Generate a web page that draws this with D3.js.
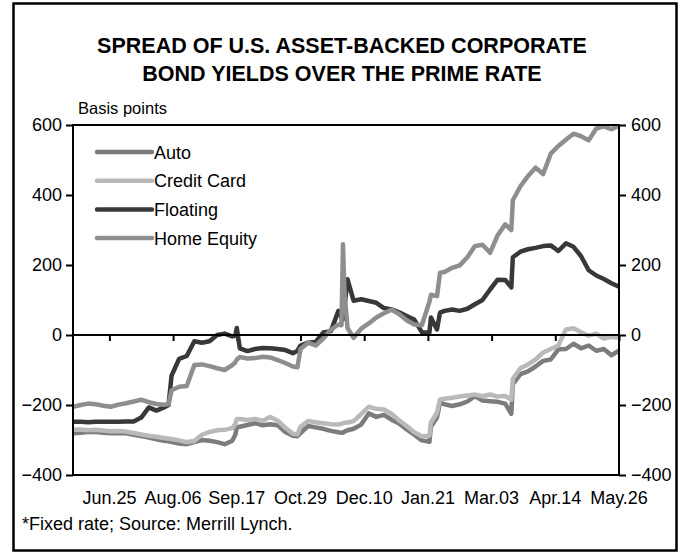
<!DOCTYPE html>
<html><head><meta charset="utf-8">
<script src="https://cdn.jsdelivr.net/npm/d3@7"></script>
<style>
body{margin:0;background:#fff}
svg{display:block}
text{font-family:"Liberation Sans",Arial,Helvetica,sans-serif;fill:#000}
</style>
</head><body>
<svg id="chart" width="683" height="554"></svg>
<script>
// ---------- data ----------
const dates = [
"2007-06-01","2007-06-06","2007-06-11","2007-06-16","2007-06-21","2007-06-26","2007-07-01","2007-07-06",
"2007-07-11","2007-07-16","2007-07-21","2007-07-26","2007-07-31","2007-08-03","2007-08-05","2007-08-10",
"2007-08-15","2007-08-20","2007-08-25","2007-08-30","2007-09-04","2007-09-09","2007-09-14","2007-09-16",
"2007-09-17","2007-09-19","2007-09-24","2007-09-29","2007-10-04","2007-10-09","2007-10-14","2007-10-19",
"2007-10-24","2007-10-27","2007-10-29","2007-11-03","2007-11-08","2007-11-13","2007-11-18","2007-11-23",
"2007-11-25","2007-11-26","2007-11-27","2007-11-29","2007-12-03","2007-12-08","2007-12-13","2007-12-18",
"2007-12-23","2007-12-28","2008-01-02","2008-01-07","2008-01-12","2008-01-17","2008-01-22","2008-01-23",
"2008-01-27","2008-01-29","2008-02-01","2008-02-06","2008-02-11","2008-02-16","2008-02-21","2008-02-26",
"2008-03-02","2008-03-07","2008-03-12","2008-03-16","2008-03-17","2008-03-22","2008-03-27","2008-04-01",
"2008-04-06","2008-04-11","2008-04-16","2008-04-21","2008-04-26","2008-05-01","2008-05-06","2008-05-11",
"2008-05-16","2008-05-21","2008-05-26"];

const homeEquity = [
-205,-200,-196,-198,-202,-205,-199,-195,
-190,-185,-192,-197,-199,-198,-158,-148,
-146,-86,-84,-89,-95,-100,-86,-78,
-70,-63,-67,-66,-62,-64,-72,-80,
-90,-92,-40,-22,-30,-10,15,30,
28,259,120,20,-8,18,33,50,
62,72,60,42,30,28,95,115,
111,178,180,192,199,222,254,258,
235,285,316,300,385,425,454,478,
460,518,540,558,575,568,556,590,
596,588,598];

const floating = [
-248,-248,-249,-248,-248,-248,-248,-247,
-247,-236,-207,-216,-207,-200,-116,-68,
-60,-18,-22,-18,0,4,-4,-2,
20,-38,-46,-40,-37,-38,-40,-43,
-52,-45,-30,-22,-20,7,11,69,
50,45,80,159,98,102,97,92,
77,73,65,54,44,8,7,50,
16,64,69,73,69,75,88,100,
130,158,157,136,222,238,245,249,
254,256,240,262,252,225,185,170,
160,148,138];

const creditCard = [
-271,-270,-272,-271,-273,-275,-274,-276,
-280,-284,-288,-291,-294,-296,-297,-301,
-306,-303,-285,-277,-272,-271,-266,-255,
-240,-240,-243,-240,-245,-234,-245,-265,
-282,-284,-262,-246,-249,-252,-255,-256,
-254,-252,-251,-250,-246,-226,-205,-211,
-213,-225,-244,-260,-278,-289,-288,-250,
-222,-184,-182,-179,-176,-173,-170,-175,
-170,-176,-174,-185,-125,-95,-84,-70,
-50,-40,-30,16,19,8,-2,4,
-10,-5,-8];

const auto = [
-281,-279,-277,-277,-279,-281,-280,-281,
-285,-289,-293,-298,-302,-304,-306,-310,
-312,-306,-300,-302,-306,-312,-302,-285,
-265,-262,-257,-252,-258,-255,-258,-277,
-288,-289,-280,-260,-264,-268,-274,-278,
-279,-279,-276,-272,-268,-256,-224,-234,
-228,-242,-253,-270,-285,-301,-305,-262,
-236,-193,-198,-203,-198,-190,-175,-187,
-189,-191,-196,-225,-140,-112,-104,-90,
-74,-70,-41,-40,-25,-38,-30,-45,
-40,-58,-45];

const seriesNames = ["Auto","Credit Card","Floating","Home Equity"];
const seriesColors = ["#7c7c7c","#b9b9b9","#383838","#8e8e8e"];
const xTickDates = ["2007-06-25","2007-08-06","2007-09-17","2007-10-29","2007-12-10","2008-01-21","2008-03-03","2008-04-14","2008-05-26"];
const yTicks = [-400,-200,0,200,400,600];
const titleLines = ["SPREAD OF U.S. ASSET-BACKED CORPORATE","BOND YIELDS OVER THE PRIME RATE"];
const unitLabel = "Basis points";
const footnote = "*Fixed rate; Source: Merrill Lynch.";

// ---------- chart ----------
const parse = d3.utcParse("%Y-%m-%d");
const fmt = d3.utcFormat("%b.%d");
const svg = d3.select("#chart");
const L = 73, R = 619, T = 125, B = 475;
const FS = "18px";

// outer frame
svg.append("rect").attr("x",13.5).attr("y",3.5).attr("width",663).attr("height",547)
  .attr("fill","none").attr("stroke","#000").attr("stroke-width",2.5);

// title
svg.append("g").selectAll("text").data(titleLines).join("text")
  .attr("x",342).attr("y",(d,i)=>53+i*28).attr("text-anchor","middle")
  .style("font-weight","bold").style("font-size","21.5px").text(d=>d);

const x = d3.scaleUtc().domain([parse("2007-06-01"), parse("2008-05-26")]).range([L,R]);
const y = d3.scaleLinear().domain([-400,600]).range([B,T]);

// units label
svg.append("text").attr("x",78).attr("y",114).style("font-size","16.5px").text(unitLabel);

// left axis
const yl = svg.append("g").attr("transform",`translate(${L},0)`)
  .call(d3.axisLeft(y).tickValues(yTicks).tickSize(7).tickPadding(4).tickFormat(d3.format("d")));
// right axis
const yr = svg.append("g").attr("transform",`translate(${R},0)`)
  .call(d3.axisRight(y).tickValues(yTicks).tickSize(7).tickPadding(5).tickFormat(d3.format("d")));
[yl,yr].forEach(g=>{
  g.select(".domain").remove();
  g.selectAll("line").attr("stroke","#000").attr("stroke-width",2);
  g.selectAll("text").style("font-size",FS).style("font-family","'Liberation Sans',Arial,sans-serif").attr("fill","#000");
});

// x axis on zero line (ticks down), labels at bottom
const tickDates = xTickDates.map(parse);
const xz = svg.append("g").attr("transform",`translate(0,${y(0)})`)
  .call(d3.axisBottom(x).tickValues(tickDates).tickSize(6).tickFormat(""));
xz.select(".domain").remove();
xz.selectAll("line").attr("stroke","#000").attr("stroke-width",2);

svg.append("g").selectAll("text").data(tickDates).join("text")
  .attr("x",d=>x(d)).attr("y",504).attr("text-anchor","middle")
  .style("font-size",FS).text(d=>fmt(d));

// footnote
svg.append("text").attr("x",22).attr("y",530).style("font-size",FS).text(footnote);

// series
const dts = dates.map(parse);
const seriesVals = [auto, creditCard, floating, homeEquity];
const line = d3.line().x((d,i)=>x(dts[i])).y(d=>y(d)).curve(d3.curveLinear);
svg.append("clipPath").attr("id","pc").append("rect")
  .attr("x",L).attr("y",T-1).attr("width",R-L).attr("height",B-T+2);
const order = [0,2,1,3];
const gl = svg.append("g").attr("clip-path","url(#pc)");
order.forEach(k=>{
  gl.append("path").datum(seriesVals[k]).attr("d",line).attr("fill","none")
    .attr("stroke",seriesColors[k]).attr("stroke-width",4.5).attr("stroke-linejoin","round");
});

// zero line
svg.append("line").attr("x1",L).attr("x2",R).attr("y1",y(0)).attr("y2",y(0))
  .attr("stroke","#000").attr("stroke-width",2);
// plot frame
svg.append("rect").attr("x",L).attr("y",T).attr("width",R-L).attr("height",B-T)
  .attr("fill","none").attr("stroke","#000").attr("stroke-width",2);

// legend
const lg = svg.append("g");
seriesNames.forEach((n,i)=>{
  const yy = 152 + i*28.7;
  lg.append("line").attr("x1",97).attr("x2",152).attr("y1",yy).attr("y2",yy)
    .attr("stroke",seriesColors[i]).attr("stroke-width",4.5).attr("stroke-linecap","round");
  lg.append("text").attr("x",154).attr("y",yy+6.5).style("font-size",FS).text(n);
});
</script>
</body></html>
